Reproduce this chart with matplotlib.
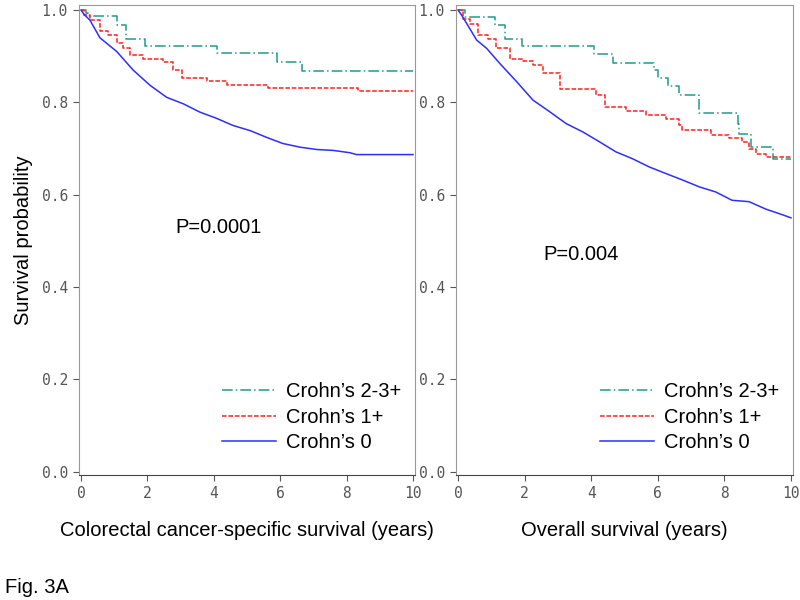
import numpy as np
import matplotlib.pyplot as plt

# Colorectal cancer-specific survival (left panel)
css_t23 = [0, 0.15, 0.2, 1.08, 1.36, 1.93, 4.1, 5.9, 6.66, 10]
css_s23 = [1.0, 0.993, 0.988, 0.968, 0.938, 0.922, 0.906, 0.888, 0.868, 0.868]
css_t1 = [0, 0.1, 0.27, 0.57, 0.8, 1.08, 1.27, 1.48, 1.87, 2.47, 2.77, 3.04, 3.8, 4.4, 5.64, 8.35, 10]
css_s1 = [1.0, 0.99, 0.978, 0.955, 0.945, 0.928, 0.917, 0.902, 0.895, 0.887, 0.87, 0.852,
          0.846, 0.837, 0.832, 0.824, 0.824]
css_t0 = [0, 0.1, 0.27, 0.57, 1.08, 1.57, 2.08, 2.58, 3.08, 3.58, 4.1, 4.58, 5.09, 5.6,
          6.08, 6.6, 7.1, 7.6, 8.1, 8.3, 10]
css_s0 = [1.0, 0.99, 0.978, 0.94, 0.91, 0.87, 0.837, 0.811, 0.797, 0.779, 0.765, 0.75,
          0.739, 0.724, 0.711, 0.703, 0.698, 0.696, 0.691, 0.687, 0.687]

# Overall survival (right panel)
os_t23 = [0, 0.21, 1.1, 1.4, 1.93, 4.07, 4.65, 5.9, 6.0, 6.32, 6.65, 7.25, 8.4, 8.45,
          8.8, 9.46, 10]
os_s23 = [1.0, 0.986, 0.967, 0.937, 0.922, 0.905, 0.886, 0.87, 0.852, 0.836, 0.817,
          0.777, 0.754, 0.731, 0.704, 0.677, 0.677]
os_t1 = [0, 0.15, 0.36, 0.6, 0.9, 1.15, 1.55, 1.95, 2.25, 2.55, 3.05, 4.15, 4.4, 5.04,
         5.64, 6.24, 6.64, 6.74, 7.59, 8.14, 8.54, 8.74, 8.94, 9.24, 10]
os_s1 = [1.0, 0.98, 0.97, 0.947, 0.937, 0.917, 0.895, 0.889, 0.881, 0.863, 0.829, 0.816,
         0.79, 0.781, 0.772, 0.765, 0.751, 0.74, 0.73, 0.723, 0.715, 0.7, 0.689, 0.682, 0.679]
os_t0 = [0, 0.1, 0.26, 0.56, 0.86, 1.26, 1.76, 2.25, 2.75, 3.25, 3.75, 4.24, 4.74, 5.24,
         5.75, 6.24, 6.74, 7.25, 7.74, 8.23, 8.74, 9.24, 9.73, 10]
os_s0 = [1.0, 0.99, 0.971, 0.935, 0.917, 0.884, 0.845, 0.805, 0.78, 0.754, 0.736, 0.715,
         0.693, 0.678, 0.66, 0.646, 0.632, 0.617, 0.606, 0.588, 0.585, 0.569, 0.557, 0.55]

labels = ["Crohn\u2019s 2-3+", "Crohn\u2019s 1+", "Crohn\u2019s 0"]
colors = ['#22998a', '#ff2020', '#2e2eff']
styles = [(0, (7, 2, 1, 2)), (0, (3, 1.2)), '-']
# Crohn's 0 has many tiny steps, so it is drawn as a plain line
draws = ['steps-post', 'steps-post', 'default']

xlabels = ["Colorectal cancer-specific survival (years)", "Overall survival (years)"]
pvalues = ["P=0.0001", "P=0.004"]

plt.rcParams['font.family'] = ['Liberation Sans', 'DejaVu Sans']
fs = 14.5

fig = plt.figure(figsize=(8, 6), dpi=100)
ax1 = fig.add_axes([0.09875, 0.2083, 0.42, 0.7834])
ax2 = fig.add_axes([0.57, 0.2083, 0.42125, 0.7834])

panels = [
    (ax1, [(css_t23, css_s23), (css_t1, css_s1), (css_t0, css_s0)], (0.286, 0.515)),
    (ax2, [(os_t23, os_s23), (os_t1, os_s1), (os_t0, os_s0)], (0.258, 0.457)),
]

for i, (ax, series, ppos) in enumerate(panels):
    for (t, s), lab, c, ls, ds in zip(series, labels, colors, styles, draws):
        ax.plot(t, s, drawstyle=ds, color=c, linestyle=ls, lw=1.1, label=lab)
    ax.set_xlim(-0.06, 10.06)
    ax.set_ylim(-0.007, 1.011)
    ax.set_xticks(np.arange(0, 11, 2))
    ax.set_yticks(np.arange(0, 1.01, 0.2))
    ax.set_yticklabels(['0.0', '0.2', '0.4', '0.6', '0.8', '1.0'])
    ax.tick_params(direction='out', length=4, width=0.8, color='#555555',
                   labelcolor='#555555', labelsize=10.5, pad=4)
    for lbl in ax.get_xticklabels() + ax.get_yticklabels():
        lbl.set_fontfamily('DejaVu Sans Mono')
    for side in ['left', 'right', 'top']:
        ax.spines[side].set_color('#999999')
    ax.spines['bottom'].set_color('#444444')
    ax.set_xlabel(xlabels[i], fontsize=fs, labelpad=14)
    ax.text(ppos[0], ppos[1], pvalues[i], transform=ax.transAxes, fontsize=fs)
    ax.legend(loc='lower right', bbox_to_anchor=(1.0, 0.018), frameon=False, fontsize=fs,
              handlelength=2.65, handletextpad=0.5, labelspacing=0.33, borderaxespad=0.3)

ax1.set_ylabel("Survival probability", fontsize=fs, labelpad=6)
fig.text(0.006, 0.012, "Fig. 3A", fontsize=fs)

fig.savefig('out.png', dpi=100)
